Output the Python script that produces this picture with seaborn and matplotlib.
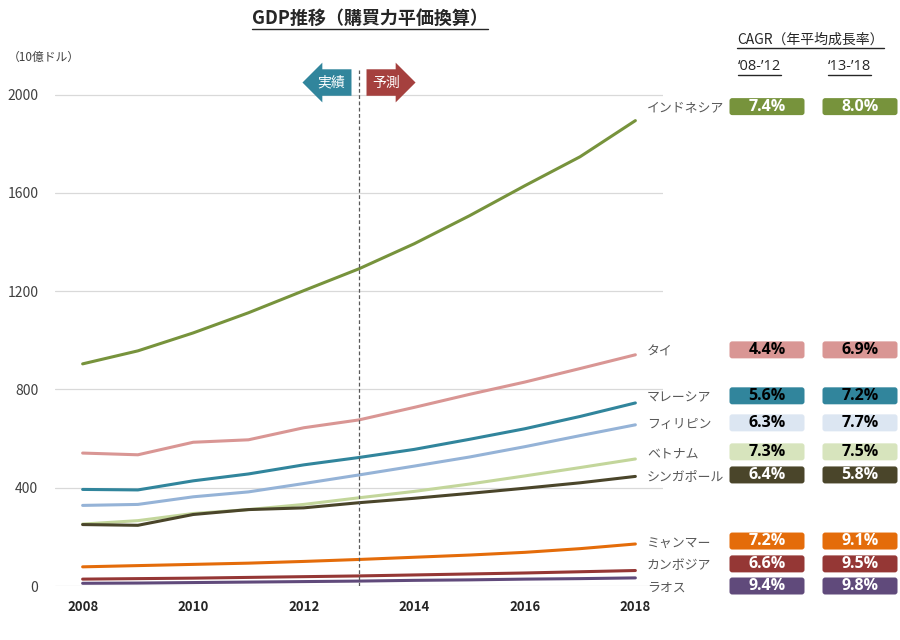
import pandas as pd
import numpy as np
import matplotlib
matplotlib.use("Agg")
import matplotlib.pyplot as plt
import seaborn as sns
from matplotlib.patches import FancyBboxPatch
from matplotlib.lines import Line2D

sns.set_theme(style="white")
plt.rcParams['font.family'] = ['Noto Sans CJK JP', 'DejaVu Sans']

# data (10億ドル, PPP)
years = list(range(2008, 2019))
indonesia = [904, 957, 1030, 1112, 1202, 1291, 1393, 1507, 1629, 1747, 1894]
thailand = [541, 534, 585, 595, 644, 676, 727, 780, 830, 885, 941]
malaysia = [393, 391, 428, 456, 493, 523, 556, 597, 640, 690, 745]
philippines = [328, 332, 363, 383, 417, 452, 488, 525, 567, 612, 656]
vietnam = [252, 266, 295, 311, 332, 359, 385, 415, 448, 482, 517]
singapore = [250, 247, 291, 311, 318, 339, 357, 377, 398, 420, 446]
myanmar = [78, 83, 88, 93, 100, 108, 117, 126, 137, 152, 171]
cambodia = [28, 30, 32, 35, 38, 41, 45, 49, 53, 58, 63]
laos = [11, 12, 14, 16, 18, 20, 23, 25, 28, 30, 33]

countries = ['インドネシア', 'タイ', 'マレーシア', 'フィリピン', 'ベトナム',
             'シンガポール', 'ミャンマー', 'カンボジア', 'ラオス']
series = [indonesia, thailand, malaysia, philippines, vietnam,
          singapore, myanmar, cambodia, laos]
cagr_08_12 = ['7.4%', '4.4%', '5.6%', '6.3%', '7.3%', '6.4%', '7.2%', '6.6%', '9.4%']
cagr_13_18 = ['8.0%', '6.9%', '7.2%', '7.7%', '7.5%', '5.8%', '9.1%', '9.5%', '9.8%']

# styles
line_colors = ['#77933C', '#D99694', '#31859C', '#95B3D7', '#C3D69B',
               '#4A452A', '#E46C0A', '#953735', '#604A7B']
box_colors = ['#77933C', '#D99694', '#31859C', '#DCE6F2', '#D7E4BD',
              '#4A452A', '#E46C0A', '#953735', '#604A7B']
box_text = ['white', 'black', 'black', 'black', 'black',
            'white', 'white', 'white', 'white']
label_y = [1951, 961, 774, 664, 546, 452, 183, 90, 0]

df = pd.DataFrame({
    'year': years * len(countries),
    'country': [c for c in countries for _ in years],
    'gdp': [v for s in series for v in s],
})

fig = plt.figure(figsize=(9, 6.4), dpi=100)
ax = fig.add_axes([55 / 900, 54 / 640, 608 / 900, 516 / 640])

sns.lineplot(data=df, x='year', y='gdp', hue='country', hue_order=countries,
             palette=dict(zip(countries, line_colors)), linewidth=2.2,
             legend=False, ax=ax)

ax.set_xlim(2007.5, 2018.5)
ax.set_ylim(0, 2100)
ax.set_yticks([0, 400, 800, 1200, 1600, 2000])
ax.set_xticks([2008, 2010, 2012, 2014, 2016, 2018])
ax.set_xlabel('')
ax.set_ylabel('')
for s in ax.spines.values():
    s.set_visible(False)
ax.yaxis.grid(True, color='#D9D9D9', linewidth=0.9)
ax.xaxis.grid(False)
ax.tick_params(axis='y', length=0, pad=12, labelsize=10, labelcolor='#404040')
ax.tick_params(axis='x', length=0, pad=10, labelsize=9.5, labelcolor='#262626')
for t in ax.get_xticklabels():
    t.set_fontweight('bold')

ax.axvline(2013, color='#595959', linestyle=(0, (3, 2)), linewidth=0.9)

ax.text(2012.5, 2049, '実績', color='white', fontsize=10, ha='center', va='center',
        bbox=dict(boxstyle='larrow,pad=0.45', fc='#31859C', ec='none'))
ax.text(2013.5, 2049, '予測', color='white', fontsize=10, ha='center', va='center',
        bbox=dict(boxstyle='rarrow,pad=0.45', fc='#A5403E', ec='none'))

fig.canvas.draw()
to_fig = fig.transFigure.inverted()

for i, c in enumerate(countries):
    yf = to_fig.transform(ax.transData.transform((2018, label_y[i])))[1]
    fig.text(647 / 900, yf - 2 / 640, c, fontsize=9.3, color='#595959',
             va='center', ha='left')
    for xc, val in ((767 / 900, cagr_08_12[i]), (860 / 900, cagr_13_18[i])):
        w, h = 75 / 900, 17 / 640
        box = FancyBboxPatch((xc - w / 2, yf - h / 2), w, h,
                             boxstyle='round,pad=0,rounding_size=0.003',
                             mutation_aspect=900 / 640,
                             transform=fig.transFigure, fc=box_colors[i],
                             ec='none', zorder=2)
        fig.patches.append(box)
        fig.text(xc, yf, val, fontsize=11.5, fontweight='bold', color=box_text[i],
                 ha='center', va='center', family=['Open Sans', 'DejaVu Sans'],
                 zorder=3)

fig.text(8 / 900, 1 - 57 / 640, '（10億ドル）', fontsize=8.5, color='#404040',
         ha='left', va='center')

title = fig.text(370 / 900, 1 - 18 / 640, 'GDP推移（購買力平価換算）', fontsize=13,
                 fontweight='bold', color='#262626', ha='center', va='center')
head = fig.text(737 / 900, 1 - 40 / 640, 'CAGR（年平均成長率）', fontsize=10,
                color='#262626', ha='left', va='center')
p1 = fig.text(738 / 900, 1 - 66 / 640, '‘08-’12', fontsize=10.5, color='#262626',
              ha='left', va='center', family=['Open Sans', 'DejaVu Sans'])
p2 = fig.text(828 / 900, 1 - 66 / 640, '‘13-’18', fontsize=10.5, color='#262626',
              ha='left', va='center', family=['Open Sans', 'DejaVu Sans'])

fig.canvas.draw()
renderer = fig.canvas.get_renderer()
for t in (title, head, p1, p2):
    bb = t.get_window_extent(renderer).transformed(fig.transFigure.inverted())
    fig.lines.append(Line2D([bb.x0, bb.x1], [bb.y0 - 0.002, bb.y0 - 0.002],
                            transform=fig.transFigure, color='#262626', linewidth=1))

fig.savefig('out.png', dpi=100, facecolor='white')
